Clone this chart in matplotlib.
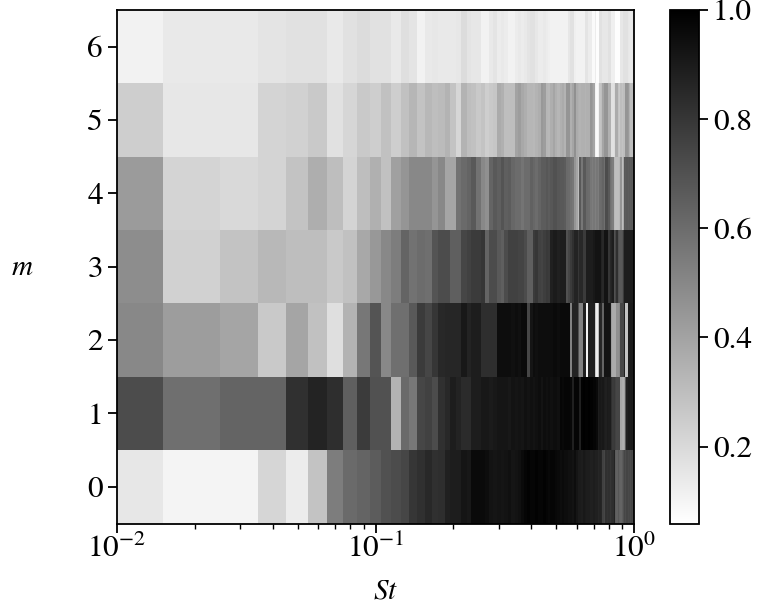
import numpy as np
import matplotlib
matplotlib.use("Agg")
import matplotlib.pyplot as plt

st_values = [k / 100 for k in range(1, 101)]
m_values = [0, 1, 2, 3, 4, 5, 6]

row_m0 = [.15,.10,.10,.21,.13,.28,.54,.61,.63,.66,.70,.72,.74,.80,.82,.85,.82,.83,.88,.89,
          .89,.92,.91,.96,.96,.96,.95,.93,.92,.93,.92,.93,.94,.92,.93,.94,.96,.98,.99,.98,
          .98,.99,.98,.98,.99,.98,.97,.98,.98,.97,.96,.95,.96,.95,.95,.94,.94,.93,.95,.92,
          .90,.90,.89,.91,.90,.89,.89,.88,.88,.89,.88,.88,.86,.87,.86,.76,.74,.82,.81,.82,
          .80,.82,.83,.87,.66,.64,.68,.64,.63,.66,.70,.74,.72,.75,.73,.74,.72,.74,.73,.72]
row_m1 = [.72,.59,.63,.63,.82,.87,.83,.65,.78,.70,.70,.34,.61,.56,.74,.76,.72,.82,.85,.89,
          .87,.84,.84,.89,.89,.91,.91,.90,.91,.92,.92,.92,.91,.93,.92,.93,.92,.94,.93,.94,
          .93,.94,.95,.93,.95,.94,.95,.94,.95,.95,.94,
          .98,.97,.98,.98,.98,.97,.88,.98,.98,.98,.88,.99,1.0,.99,.99,1.0,.99,.99,.98,.98,
          .96,.89,.91,.90,.91,.89,.88,.90,.89,.89,.82,.78,.79,.76,.74,.74,.74,.38,.36,.35,
          .40,.67,.88,.90,.90,.89,.90,.89,.90]
row_m2 = [.50,.42,.39,.26,.39,.29,.18,.34,.56,.69,.50,.59,.59,.67,.78,.74,.80,.85,.86,.86,
          .86,.91,.87,.89,.89,.83,.83,.83,.83,.95,.95,.95,.95,.94,.95,.94,.96,.96,.74,.92,
          .95,.94,.95,.95,.95,.95,.95,.95,.96,.96,.95,
          .96,.96,.96,.96,.96,.52,.87,.87,.87,.70,.52,.52,.88,.88,.10,.88,.88,.88,.88,.26,
          .12,.30,.86,.85,.63,.93,.93,.93,.93,.90,.42,.37,.37,.37,.47,.47,.50,.74,.74,.74,
          .88,.28,.28,.90,.90,.90,.90,.90,.90]
row_m3 = [.48,.23,.28,.32,.30,.30,.26,.29,.38,.44,.50,.54,.63,.58,.60,.59,.69,.72,.72,.65,
          .65,.74,.76,.78,.78,.80,.63,.72,.72,.67,.65,.72,.76,.76,.76,.75,.75,.72,.65,.65,
          .78,.80,.76,.75,.77,.79,.78,.88,.90,.90,.88,
          .89,.89,.89,.70,.74,.78,.82,.87,.87,.80,.85,.85,.78,.78,.89,.89,.89,.89,.91,.93,
          .93,.93,.93,.87,.85,.93,.93,.93,.80,.85,.87,.89,.70,.74,.82,.70,.67,.67,.69,.78,
          .89,.89,.89,.89,.89,.89,.89,.89,.89]
row_m4 = [.43,.22,.20,.22,.28,.36,.30,.22,.30,.35,.29,.41,.45,.50,.50,.50,.45,.50,.39,.39,
          .58,.61,.63,.67,.58,.50,.47,.63,.67,.65,.69,.65,.66,.62,.60,.60,.57,.60,.60,.64,
          .62,.60,.63,.66,.66,.68,.66,.68,.70,.70,.68,
          .67,.67,.66,.61,.60,.58,.56,.45,.39,.30,.67,.56,.67,.67,.61,.60,.56,.54,.56,.53,
          .56,.54,.60,.61,.63,.59,.72,.72,.67,.59,.56,.54,.32,.30,.30,.30,.32,.45,.30,.37,
          .67,.66,.67,.66,.67,.66,.67,.66,.66]
row_m5 = [.24,.15,.15,.22,.23,.26,.17,.21,.26,.24,.29,.24,.29,.33,.28,.32,.30,.31,.34,.28,
          .21,.34,.30,.29,.26,.28,.24,.26,.27,.37,.35,.30,.30,.30,.40,.42,.38,.36,.33,.33,
          .32,.34,.36,.44,.42,.33,.32,.36,.39,.35,.33,
          .35,.37,.34,.45,.45,.35,.39,.47,.37,.35,.34,.35,.35,.34,.35,.35,.45,.43,.39,.11,
          .08,.11,.28,.30,.39,.45,.45,.45,.35,.35,.17,.17,.19,.37,.37,.28,.26,.30,.28,.30,
          .30,.45,.45,.43,.35,.30,.30,.30,.34]
row_m6 = [.11,.14,.14,.16,.17,.17,.14,.17,.19,.17,.17,.14,.18,.16,.11,.14,.15,.14,.14,.14,
          .15,.19,.16,.15,.15,.11,.11,.14,.16,.13,.14,.13,.11,.11,.13,.14,.13,.14,.16,.17,
          .17,.15,.13,.13,.14,.13,.12,.11,.11,.11,.11,
          .11,.11,.11,.11,.15,.17,.17,.12,.11,.11,.11,.11,.11,.16,.16,.13,.13,.08,.08,.13,
          .07,.07,.17,.17,.15,.15,.15,.15,.17,.17,.12,.12,.12,.07,.07,.07,.07,.15,.15,.17,
          .17,.17,.17,.15,.14,.14,.14,.15,.15]
color_min, color_max = 0.059, 1.0

plt.rcParams.update({"font.family": "STIXGeneral", "mathtext.fontset": "stix", "font.size": 22.5})
W, H = 757, 609
fig = plt.figure(figsize=(W / 100, H / 100), dpi=100)
ax = fig.add_axes([117 / W, 1 - 523.5 / H, 517 / W, 513.5 / H])
cax = fig.add_axes([670 / W, 1 - 523.5 / H, 29 / W, 513.5 / H])

z = np.array([row_m0, row_m1, row_m2, row_m3, row_m4, row_m5, row_m6])
mesh = ax.pcolormesh(st_values, m_values, z, shading="nearest", cmap="gray_r", vmin=color_min, vmax=color_max)
ax.set_xscale("log")
ax.set_xlim(0.01, 1.0)
ax.set_ylim(-0.5, 6.5)
ax.set_yticks(m_values)
ax.tick_params(which="major", length=6.5, width=1.3)
ax.tick_params(which="minor", length=3.5, width=1.0)
ax.tick_params(axis="x", which="both", pad=1.5)
for s in ax.spines.values():
    s.set_linewidth(1.3)
ax.set_xlabel("$St$", fontsize=21)
ax.xaxis.set_label_coords((386 - 117) / 517, -(592 - 523.5) / 513.5, transform=ax.transAxes)
ax.xaxis.label.set_va("center")
ax.set_ylabel("$m$", rotation=0, fontsize=21, va="center", ha="center")
ax.yaxis.set_label_coords((22 - 117) / 517, (523.5 - 268) / 513.5, transform=ax.transAxes)

cb = fig.colorbar(mesh, cax=cax)
cb.set_ticks([0.2, 0.4, 0.6, 0.8, 1.0])
cb.ax.tick_params(length=6.5, width=1.3)
cb.outline.set_linewidth(1.3)
fig.savefig("out.png", dpi=100)
